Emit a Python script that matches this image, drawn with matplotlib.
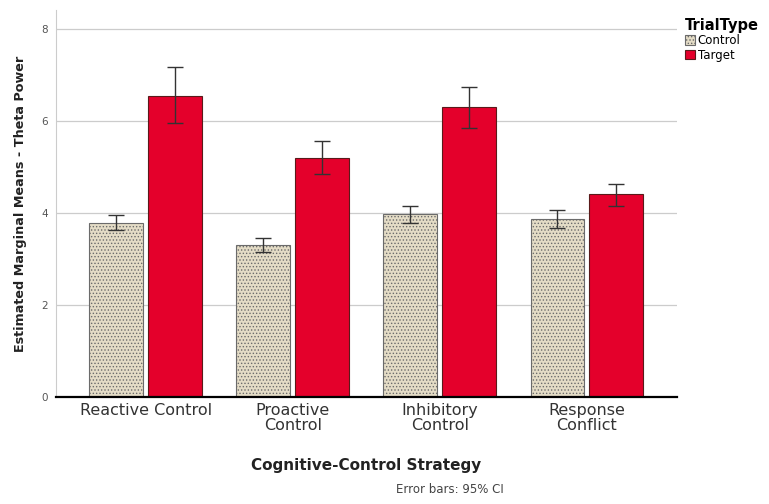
import matplotlib
matplotlib.use("Agg")
import matplotlib.pyplot as plt
import numpy as np

# Оценённые маргинальные средние и 95% ДИ
strategies = ["Reactive Control", "Proactive\nControl", "Inhibitory\nControl", "Response\nConflict"]
control_mean = [3.78, 3.30, 3.97, 3.86]
control_low = [3.63, 3.16, 3.77, 3.67]
control_high = [3.96, 3.45, 4.14, 4.07]
target_mean = [6.55, 5.20, 6.30, 4.41]
target_low = [5.95, 4.85, 5.84, 4.15]
target_high = [7.16, 5.57, 6.73, 4.62]

plt.rcParams["font.family"] = ["DejaVu Sans"]
plt.rcParams["hatch.linewidth"] = 0.6

fig = plt.figure(figsize=(7.69, 5.04), dpi=100)
ax = fig.add_axes([0.0728, 0.2123, 0.807, 0.768])

x = np.arange(len(strategies))
w = 0.366
off = 0.2

c_err = [np.array(control_mean) - np.array(control_low),
         np.array(control_high) - np.array(control_mean)]
t_err = [np.array(target_mean) - np.array(target_low),
         np.array(target_high) - np.array(target_mean)]

ax.bar(x - off, control_mean, w, color="#e4dcc6", edgecolor="#6b6b6b",
       hatch=".....", linewidth=0.8, label="Control", zorder=2)
ax.bar(x + off, target_mean, w, color="#e4002b", edgecolor="#5a1a1a",
       linewidth=0.8, label="Target", zorder=2)
ax.errorbar(x - off, control_mean, yerr=c_err, fmt="none", ecolor="#333333",
            elinewidth=1, capsize=6, capthick=1, zorder=3)
ax.errorbar(x + off, target_mean, yerr=t_err, fmt="none", ecolor="#333333",
            elinewidth=1, capsize=6, capthick=1, zorder=3)

ax.set_xlim(-0.61, 3.61)
ax.set_ylim(0, 8.41)
ax.set_yticks([0, 2, 4, 6, 8])
ax.set_xticks(x)
ax.set_xticklabels(strategies, fontsize=11.5, color="#333333", linespacing=1.05)
ax.tick_params(axis="y", length=0, labelsize=7.5, labelcolor="#555555", pad=6)
ax.tick_params(axis="x", length=0, pad=4)
ax.grid(axis="y", color="#cccccc", linewidth=0.9, zorder=0)
ax.set_axisbelow(True)

for s in ["top", "right"]:
    ax.spines[s].set_visible(False)
ax.spines["left"].set_color("#cccccc")
ax.spines["bottom"].set_color("black")
ax.spines["bottom"].set_linewidth(1.6)
ax.spines["bottom"].set_zorder(4)

ax.set_ylabel("Estimated Marginal Means - Theta Power", fontsize=9.2,
              fontweight="bold", color="#222222", labelpad=10)
ax.set_xlabel("Cognitive-Control Strategy", fontsize=11, fontweight="bold",
              color="#222222", labelpad=18)

fig.text(0.585, 0.022, "Error bars: 95% CI", fontsize=8.5, color="#444444", ha="center")

leg = ax.legend(loc="upper left", bbox_to_anchor=(1.0, 1.0), frameon=False,
                title="TrialType", fontsize=8.5, handlelength=0.9, handleheight=0.9,
                handletextpad=0.2, labelspacing=0.1, borderaxespad=0.3)
leg.get_title().set_fontweight("bold")
leg.get_title().set_fontsize(10.5)
leg._legend_box.align = "left"

fig.savefig("out.png", dpi=100)
